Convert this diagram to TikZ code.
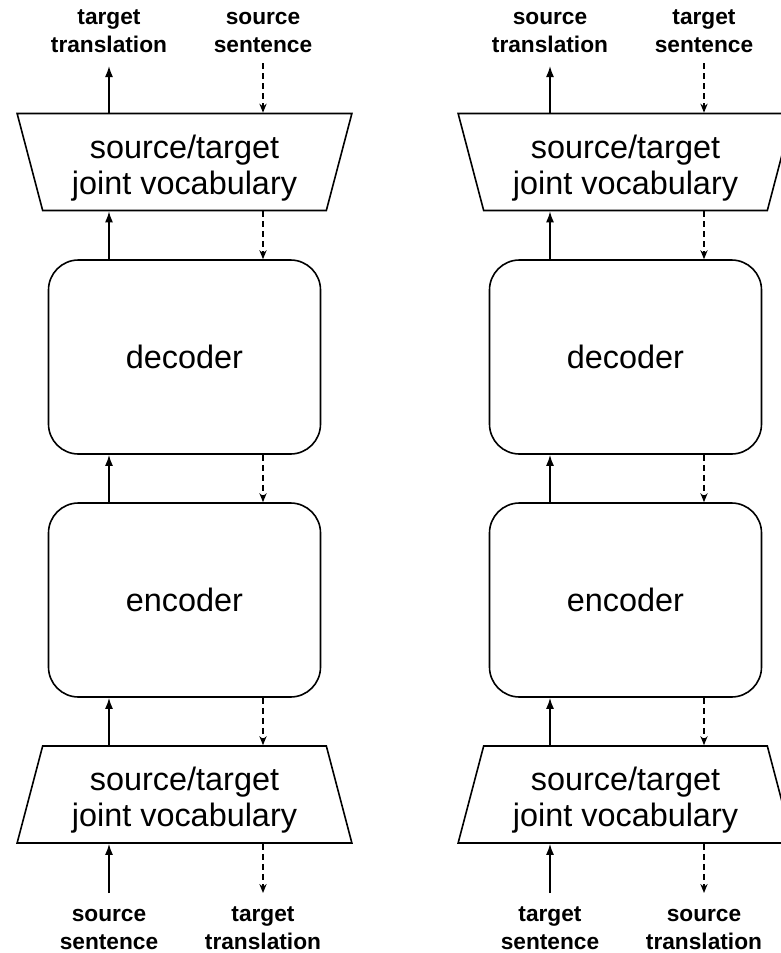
\documentclass[tikz,border=0pt]{standalone}
\usepackage{fontspec}
\setmainfont{Liberation Sans}
\usetikzlibrary{shapes.geometric,positioning,arrows.meta}

\tikzset{
  block/.style={draw, rounded corners=15pt, minimum width=136pt, minimum height=97pt,
    align=center, font=\fontsize{16.2}{18}\selectfont},
  vocab/.style={draw, trapezium, trapezium stretches, trapezium left angle=#1,
    trapezium right angle=#1, minimum width=167.5pt, minimum height=48.5pt,
    inner sep=0pt, align=center, text height=35.8pt, text depth=3.4pt,
    font=\fontsize{16.2}{18}\selectfont},
  lbl/.style={align=center, inner sep=0pt, text height=22pt, text depth=0pt,
    font=\bfseries\fontsize{11.35}{14}\selectfont},
  fwd/.style={-{Latex[length=5.5pt,width=4pt]}},
  bwd/.style={dash pattern=on 3pt off 2pt, -{Stealth[length=4.5pt,width=3.6pt,open]}}
}

\begin{document}
\begin{tikzpicture}[x=0.5pt,y=-0.5pt,line width=0.8pt]
  \useasboundingbox (0,0) rectangle (781,953);

  % two columns, source and target swapped in the second one
  \foreach \c/\x/\a/\b in {l/184.5/source/target, r/625.5/target/source}{
    \node[vocab=75.5] (in\c) at (\x,794.5) {source/target\\joint vocabulary};
    \node[block] (enc\c) at (\x,600) {encoder};
    \node[block] (dec\c) at (\x,357) {decoder};
    \node[vocab=104.5] (out\c) at (\x,162) {source/target\\joint vocabulary};

    \coordinate (sx\c) at (\x-75.5,0);
    \coordinate (dx\c) at (\x+78.5,0);
    \coordinate (tops\c) at (\x-75.5,66);
    \coordinate (topd\c) at (\x+78.5,63);
    \coordinate (bots\c) at (\x-75.5,893);
    \coordinate (botd\c) at (\x+78.5,893);

    \node[lbl] (tl\c) at (\x-75.5,31) {\b\\translation};
    \node[lbl] (tr\c) at (\x+78.5,31) {\a\\sentence};
    \node[lbl] (bl\c) at (\x-75.5,927) {\a\\sentence};
    \node[lbl] (br\c) at (\x+78.5,927) {\b\\translation};

    % forward pass
    \draw[fwd] (bots\c) -- (in\c.south -| sx\c);
    \draw[fwd] (in\c.north -| sx\c) -- (enc\c.south -| sx\c);
    \draw[fwd] (enc\c.north -| sx\c) -- (dec\c.south -| sx\c);
    \draw[fwd] (dec\c.north -| sx\c) -- (out\c.south -| sx\c);
    \draw[fwd] (out\c.north -| sx\c) -- (tops\c);

    % backward pass
    \draw[bwd] (topd\c) -- (out\c.north -| dx\c);
    \draw[bwd] (out\c.south -| dx\c) -- (dec\c.north -| dx\c);
    \draw[bwd] (dec\c.south -| dx\c) -- (enc\c.north -| dx\c);
    \draw[bwd] (enc\c.south -| dx\c) -- (in\c.north -| dx\c);
    \draw[bwd] (in\c.south -| dx\c) -- (botd\c);
  }
\end{tikzpicture}
\end{document}
